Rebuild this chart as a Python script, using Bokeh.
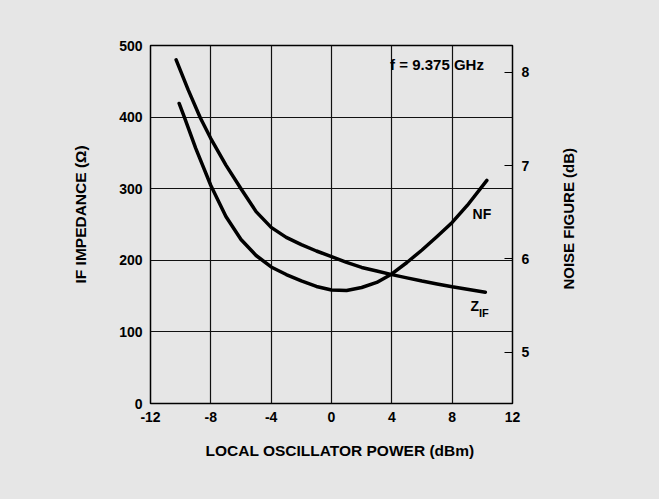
import math
from bokeh.plotting import figure
from bokeh.layouts import row
from bokeh.models import Range1d, LinearAxis, FixedTicker, Label, Title
from bokeh.embed import file_html
from bokeh.resources import INLINE

# Data
lo_power_z = [-10.3, -9.5, -8.7, -8.0, -7.0, -6.0, -5.0, -4.0, -3.0, -2.0, -1.0,
              0.0, 1.0, 2.0, 3.0, 4.0, 5.0, 6.0, 7.0, 8.0, 9.0, 10.2]
z_if_ohm = [480, 438, 399, 370, 333, 300, 268, 246, 232, 222, 213,
            205, 197, 190, 185, 180, 175.5, 171, 167, 163, 159.5, 155.5]

lo_power_nf = [-10.1, -9.75, -9.0, -8.0, -7.0, -6.0, -5.0, -4.0, -3.0, -2.0, -1.0,
               0.0, 1.0, 2.0, 3.0, 4.0, 5.0, 6.0, 7.0, 8.0, 9.0, 10.3]
nf_db = [7.665, 7.515, 7.183, 6.786, 6.454, 6.208, 6.036, 5.913, 5.832, 5.763, 5.704,
         5.666, 5.661, 5.693, 5.747, 5.838, 5.961, 6.095, 6.240, 6.390, 6.572, 6.840]

x_ticks = [-12, -8, -4, 0, 4, 8, 12]
x_tick_labels = ["-12", "-8", "-4", "0", "4", "8", "12"]
z_ticks = [0, 100, 200, 300, 400, 500]
nf_ticks = [5, 6, 7, 8]

FONT = "Liberation Sans"
BG = "#e6e6e6"
MAIN_W = 545

p = figure(width=MAIN_W, height=499, output_backend="svg", toolbar_location=None,
           x_range=Range1d(-12, 12), y_range=Range1d(0, 500),
           min_border_left=150, min_border_right=MAIN_W - 512,
           min_border_top=45, min_border_bottom=96,
           background_fill_color=BG, border_fill_color=BG)
p.extra_y_ranges = {"nf": Range1d(4.450, 8.286)}

p.outline_line_color = "black"
p.outline_line_width = 1.5

xa = p.xaxis[0]
xa.ticker = FixedTicker(ticks=x_ticks)
xa.major_label_overrides = {t: s for t, s in zip(x_ticks, x_tick_labels)}
ya = p.yaxis[0]
ya.ticker = FixedTicker(ticks=z_ticks)

for ax in (xa, ya):
    ax.axis_line_color = None
    ax.major_tick_in = 0
    ax.major_tick_out = 0
    ax.minor_tick_line_color = None
    ax.major_label_standoff = 8
    ax.major_label_text_font = FONT
    ax.major_label_text_font_style = "bold"
    ax.major_label_text_font_size = "14px"
    ax.major_label_text_color = "black"

# right axis with the noise figure ticks
ra = LinearAxis(y_range_name="nf", ticker=FixedTicker(ticks=nf_ticks))
ra.axis_line_color = None
ra.major_tick_in = 8
ra.major_tick_out = 0
ra.major_tick_line_color = "black"
ra.major_tick_line_width = 1
ra.minor_tick_line_color = None
ra.major_label_standoff = 9
ra.major_label_text_font = FONT
ra.major_label_text_font_style = "bold"
ra.major_label_text_font_size = "14px"
ra.major_label_text_color = "black"
p.add_layout(ra, "right")

p.add_layout(Title(text="LOCAL OSCILLATOR POWER (dBm)", align="left", offset=55,
                   text_font=FONT, text_font_style="bold", text_font_size="15.5px",
                   text_color="black", standoff=30), "below")
p.add_layout(Title(text="IF IMPEDANCE (\u03a9)", align="left", offset=120,
                   text_font=FONT, text_font_style="bold", text_font_size="15.5px",
                   text_color="black", standoff=56), "left")

p.xgrid.ticker = FixedTicker(ticks=[-8, -4, 0, 4, 8])
p.ygrid.ticker = FixedTicker(ticks=[100, 200, 300, 400])
for g in (p.xgrid[0], p.ygrid[0]):
    g.grid_line_color = "#111111"
    g.grid_line_width = 1.2

p.line(lo_power_z, z_if_ohm, line_color="black", line_width=3.5, line_cap="round",
       line_join="round")
p.line(lo_power_nf, nf_db, y_range_name="nf", line_color="black", line_width=3.5,
       line_cap="round", line_join="round")

def lab(fig, x, y, text, size="14px", align="left", angle=0.0):
    fig.add_layout(Label(x=x, y=y, text=text, text_font=FONT, text_font_style="bold",
                         text_font_size=size, text_color="black", text_align=align,
                         text_baseline="middle", angle=angle))

lab(p, 6.995, 473.5, "f = 9.375 GHz", size="15px", align="center")
lab(p, 9.35, 265, "NF")
lab(p, 9.22, 135.5, "Z")
lab(p, 9.78, 127, "IF", size="11px")

# narrow side panel holding the right-hand axis title (reads bottom to top)
q = figure(width=659 - MAIN_W, height=499, output_backend="svg", toolbar_location=None,
           x_range=Range1d(MAIN_W, 659), y_range=Range1d(0, 499),
           x_axis_location=None, y_axis_location=None,
           min_border=0, background_fill_color=BG, border_fill_color=BG)
q.outline_line_color = None
q.grid.visible = False
lab(q, 568, 257.5, "NOISE FIGURE (dB)", size="15px", align="center",
    angle=math.pi / 2)

layout = row(p, q, spacing=0)
try:
    layout.styles = {"background-color": BG}
except Exception:
    pass
open("out.html", "w").write(file_html(layout, INLINE))
